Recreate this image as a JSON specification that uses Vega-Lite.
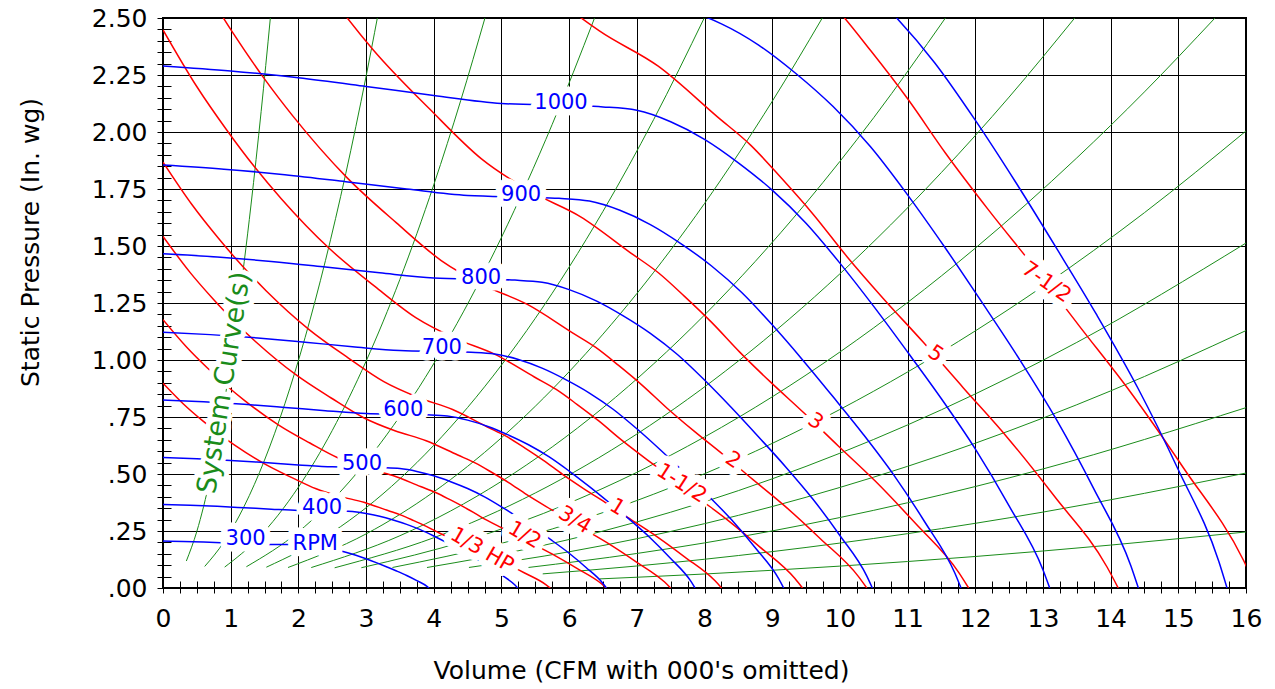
{
"$schema":"https://vega.github.io/schema/vega-lite/v6.json",
"width":1083,"height":570,
"autosize":{"type":"none"},
"padding":{"left":163,"top":18,"right":29,"bottom":101},
"background":"white",
"config":{"view":{"stroke":"#000","strokeWidth":2},"font":"DejaVu Sans"},
"datasets":{
"curves":[
{"k":"s","id":"g1","x":0.345,"y":0.1183},{"k":"s","id":"g1","x":0.5,"y":0.2485},{"k":"s","id":"g1","x":0.7,"y":0.4871},{"k":"s","id":"g1","x":0.9,"y":0.8051},{"k":"s","id":"g1","x":1.1,"y":1.2027},{"k":"s","id":"g1","x":1.3,"y":1.6799},{"k":"s","id":"g1","x":1.45,"y":2.09},{"k":"s","id":"g1","x":1.586,"y":2.5003},
{"k":"s","id":"g2","x":0.616,"y":0.0946},{"k":"s","id":"g2","x":0.9,"y":0.2019},{"k":"s","id":"g2","x":1.2,"y":0.359},{"k":"s","id":"g2","x":1.5,"y":0.5609},{"k":"s","id":"g2","x":1.8,"y":0.8077},{"k":"s","id":"g2","x":2.1,"y":1.0994},{"k":"s","id":"g2","x":2.4,"y":1.436},{"k":"s","id":"g2","x":2.7,"y":1.8174},{"k":"s","id":"g2","x":3.0,"y":2.2437},{"k":"s","id":"g2","x":3.167,"y":2.5004},
{"k":"s","id":"g3","x":0.911,"y":0.0917},{"k":"s","id":"g3","x":1.4,"y":0.2166},{"k":"s","id":"g3","x":2.0,"y":0.442},{"k":"s","id":"g3","x":2.5,"y":0.6906},{"k":"s","id":"g3","x":3.0,"y":0.9945},{"k":"s","id":"g3","x":3.5,"y":1.3536},{"k":"s","id":"g3","x":4.0,"y":1.768},{"k":"s","id":"g3","x":4.4,"y":2.1393},{"k":"s","id":"g3","x":4.757,"y":2.5005},
{"k":"s","id":"g4","x":1.232,"y":0.0933},{"k":"s","id":"g4","x":2,"y":0.246},{"k":"s","id":"g4","x":2.75,"y":0.4651},{"k":"s","id":"g4","x":3.5,"y":0.7534},{"k":"s","id":"g4","x":4.25,"y":1.1109},{"k":"s","id":"g4","x":5,"y":1.5375},{"k":"s","id":"g4","x":5.75,"y":2.0333},{"k":"s","id":"g4","x":6.375,"y":2.4994},
{"k":"s","id":"g5","x":1.527,"y":0.0912},{"k":"s","id":"g5","x":2.5,"y":0.2444},{"k":"s","id":"g5","x":3.5,"y":0.479},{"k":"s","id":"g5","x":4.5,"y":0.7918},{"k":"s","id":"g5","x":5.5,"y":1.1828},{"k":"s","id":"g5","x":6.5,"y":1.652},{"k":"s","id":"g5","x":7.25,"y":2.0552},{"k":"s","id":"g5","x":8.0,"y":2.5024},
{"k":"s","id":"g6","x":1.847,"y":0.0899},{"k":"s","id":"g6","x":3,"y":0.2372},{"k":"s","id":"g6","x":4,"y":0.4216},{"k":"s","id":"g6","x":5,"y":0.6588},{"k":"s","id":"g6","x":6,"y":0.9486},{"k":"s","id":"g6","x":7,"y":1.2912},{"k":"s","id":"g6","x":8,"y":1.6864},{"k":"s","id":"g6","x":9,"y":2.1344},{"k":"s","id":"g6","x":9.74,"y":2.4998},
{"k":"s","id":"g7","x":2.19,"y":0.0897},{"k":"s","id":"g7","x":3.5,"y":0.2292},{"k":"s","id":"g7","x":5,"y":0.4678},{"k":"s","id":"g7","x":6.5,"y":0.7905},{"k":"s","id":"g7","x":8,"y":1.1974},{"k":"s","id":"g7","x":9.5,"y":1.6886},{"k":"s","id":"g7","x":10.5,"y":2.0628},{"k":"s","id":"g7","x":11.56,"y":2.5003},
{"k":"s","id":"g8","x":2.536,"y":0.0886},{"k":"s","id":"g8","x":4,"y":0.2205},{"k":"s","id":"g8","x":5.5,"y":0.4168},{"k":"s","id":"g8","x":7,"y":0.6752},{"k":"s","id":"g8","x":8.5,"y":0.9956},{"k":"s","id":"g8","x":10,"y":1.378},{"k":"s","id":"g8","x":11.5,"y":1.8224},{"k":"s","id":"g8","x":12.5,"y":2.1531},{"k":"s","id":"g8","x":13.47,"y":2.5003},
{"k":"s","id":"g9","x":2.93,"y":0.0889},{"k":"s","id":"g9","x":4.5,"y":0.2096},{"k":"s","id":"g9","x":6,"y":0.3726},{"k":"s","id":"g9","x":8,"y":0.6624},{"k":"s","id":"g9","x":10,"y":1.035},{"k":"s","id":"g9","x":12,"y":1.4904},{"k":"s","id":"g9","x":13.5,"y":1.8863},{"k":"s","id":"g9","x":14.5,"y":2.176},{"k":"s","id":"g9","x":15.54,"y":2.4994},
{"k":"s","id":"g10","x":3.39,"y":0.09},{"k":"s","id":"g10","x":5,"y":0.1958},{"k":"s","id":"g10","x":7,"y":0.3837},{"k":"s","id":"g10","x":9,"y":0.6342},{"k":"s","id":"g10","x":11,"y":0.9474},{"k":"s","id":"g10","x":13,"y":1.3233},{"k":"s","id":"g10","x":14.5,"y":1.6463},{"k":"s","id":"g10","x":16,"y":2.0045},
{"k":"s","id":"g11","x":3.9,"y":0.0899},{"k":"s","id":"g11","x":5.5,"y":0.1788},{"k":"s","id":"g11","x":7.5,"y":0.3324},{"k":"s","id":"g11","x":9.5,"y":0.5334},{"k":"s","id":"g11","x":11.5,"y":0.7816},{"k":"s","id":"g11","x":13.5,"y":1.0771},{"k":"s","id":"g11","x":16,"y":1.513},
{"k":"s","id":"g12","x":4.52,"y":0.0901},{"k":"s","id":"g12","x":6,"y":0.1588},{"k":"s","id":"g12","x":8,"y":0.2822},{"k":"s","id":"g12","x":10,"y":0.441},{"k":"s","id":"g12","x":12,"y":0.635},{"k":"s","id":"g12","x":14,"y":0.8644},{"k":"s","id":"g12","x":16,"y":1.129},
{"k":"s","id":"g13","x":5.4,"y":0.0901},{"k":"s","id":"g13","x":7,"y":0.1514},{"k":"s","id":"g13","x":9,"y":0.2503},{"k":"s","id":"g13","x":11,"y":0.3739},{"k":"s","id":"g13","x":13,"y":0.5222},{"k":"s","id":"g13","x":16,"y":0.791},
{"k":"s","id":"g14","x":5.61,"y":0.062},{"k":"s","id":"g14","x":7,"y":0.0965},{"k":"s","id":"g14","x":9,"y":0.1596},{"k":"s","id":"g14","x":11,"y":0.2384},{"k":"s","id":"g14","x":13,"y":0.3329},{"k":"s","id":"g14","x":16,"y":0.5043},
{"k":"s","id":"g15","x":6.45,"y":0.0399},{"k":"s","id":"g15","x":8,"y":0.0614},{"k":"s","id":"g15","x":10,"y":0.096},{"k":"s","id":"g15","x":12,"y":0.1382},{"k":"s","id":"g15","x":14,"y":0.1882},{"k":"s","id":"g15","x":16,"y":0.2458},

{"k":"h","id":"h0.33","x":0,"y":0.898},{"k":"h","id":"h0.33","x":0.2977,"y":0.8082},{"k":"h","id":"h0.33","x":0.57,"y":0.7371},{"k":"h","id":"h0.33","x":0.8221,"y":0.677},{"k":"h","id":"h0.33","x":1.0583,"y":0.6265},{"k":"h","id":"h0.33","x":1.4938,"y":0.5455},{"k":"h","id":"h0.33","x":1.896,"y":0.4853},{"k":"h","id":"h0.33","x":2.2622,"y":0.435},{"k":"h","id":"h0.33","x":2.6144,"y":0.4018},{"k":"h","id":"h0.33","x":2.9666,"y":0.3763},{"k":"h","id":"h0.33","x":3.3233,"y":0.3396},{"k":"h","id":"h0.33","x":3.5187,"y":0.3196},{"k":"h","id":"h0.33","x":3.7044,"y":0.2956},{"k":"h","id":"h0.33","x":3.897,"y":0.2692},{"k":"h","id":"h0.33","x":4.0966,"y":0.2391},{"k":"h","id":"h0.33","x":4.316,"y":0.2087},{"k":"h","id":"h0.33","x":4.5535,"y":0.1774},{"k":"h","id":"h0.33","x":4.7949,"y":0.1443},{"k":"h","id":"h0.33","x":5.059,"y":0.1084},{"k":"h","id":"h0.33","x":5.3427,"y":0.0658},{"k":"h","id":"h0.33","x":5.6554,"y":0.0151},{"k":"h","id":"h0.33","x":5.7226,"y":0},

{"k":"h","id":"h0.5","x":0,"y":1.1768},{"k":"h","id":"h0.5","x":0.3407,"y":1.059},{"k":"h","id":"h0.5","x":0.6525,"y":0.9658},{"k":"h","id":"h0.5","x":0.941,"y":0.887},{"k":"h","id":"h0.5","x":1.2113,"y":0.8209},{"k":"h","id":"h0.5","x":1.7099,"y":0.7147},{"k":"h","id":"h0.5","x":2.1703,"y":0.6359},{"k":"h","id":"h0.5","x":2.5894,"y":0.57},{"k":"h","id":"h0.5","x":2.9926,"y":0.5264},{"k":"h","id":"h0.5","x":3.3958,"y":0.4931},{"k":"h","id":"h0.5","x":3.804,"y":0.445},{"k":"h","id":"h0.5","x":4.0276,"y":0.4188},{"k":"h","id":"h0.5","x":4.2403,"y":0.3874},{"k":"h","id":"h0.5","x":4.4608,"y":0.3528},{"k":"h","id":"h0.5","x":4.6892,"y":0.3134},{"k":"h","id":"h0.5","x":4.9403,"y":0.2734},{"k":"h","id":"h0.5","x":5.2122,"y":0.2324},{"k":"h","id":"h0.5","x":5.4885,"y":0.1891},{"k":"h","id":"h0.5","x":5.7908,"y":0.1421},{"k":"h","id":"h0.5","x":6.1155,"y":0.0862},{"k":"h","id":"h0.5","x":6.4734,"y":0.0198},{"k":"h","id":"h0.5","x":6.5504,"y":0},

{"k":"h","id":"h0.75","x":0,"y":1.542},{"k":"h","id":"h0.75","x":0.3901,"y":1.3877},{"k":"h","id":"h0.75","x":0.747,"y":1.2655},{"k":"h","id":"h0.75","x":1.0772,"y":1.1623},{"k":"h","id":"h0.75","x":1.3867,"y":1.0756},{"k":"h","id":"h0.75","x":1.9574,"y":0.9365},{"k":"h","id":"h0.75","x":2.4845,"y":0.8333},{"k":"h","id":"h0.75","x":2.9643,"y":0.7469},{"k":"h","id":"h0.75","x":3.4258,"y":0.6898},{"k":"h","id":"h0.75","x":3.8874,"y":0.6461},{"k":"h","id":"h0.75","x":4.3547,"y":0.5831},{"k":"h","id":"h0.75","x":4.6107,"y":0.5487},{"k":"h","id":"h0.75","x":4.8541,"y":0.5076},{"k":"h","id":"h0.75","x":5.1065,"y":0.4623},{"k":"h","id":"h0.75","x":5.368,"y":0.4106},{"k":"h","id":"h0.75","x":5.6555,"y":0.3583},{"k":"h","id":"h0.75","x":5.9668,"y":0.3045},{"k":"h","id":"h0.75","x":6.283,"y":0.2477},{"k":"h","id":"h0.75","x":6.6291,"y":0.1862},{"k":"h","id":"h0.75","x":7.0008,"y":0.1129},{"k":"h","id":"h0.75","x":7.4105,"y":0.026},{"k":"h","id":"h0.75","x":7.4987,"y":0},

{"k":"h","id":"h1","x":0,"y":1.868},{"k":"h","id":"h1","x":0.4293,"y":1.681},{"k":"h","id":"h1","x":0.8221,"y":1.533},{"k":"h","id":"h1","x":1.1856,"y":1.408},{"k":"h","id":"h1","x":1.5262,"y":1.303},{"k":"h","id":"h1","x":2.1543,"y":1.1345},{"k":"h","id":"h1","x":2.7344,"y":1.0094},{"k":"h","id":"h1","x":3.2625,"y":0.9048},{"k":"h","id":"h1","x":3.7704,"y":0.8356},{"k":"h","id":"h1","x":4.2784,"y":0.7827},{"k":"h","id":"h1","x":4.7928,"y":0.7063},{"k":"h","id":"h1","x":5.0745,"y":0.6647},{"k":"h","id":"h1","x":5.3424,"y":0.6149},{"k":"h","id":"h1","x":5.6202,"y":0.56},{"k":"h","id":"h1","x":5.908,"y":0.4974},{"k":"h","id":"h1","x":6.2244,"y":0.434},{"k":"h","id":"h1","x":6.567,"y":0.3689},{"k":"h","id":"h1","x":6.915,"y":0.3001},{"k":"h","id":"h1","x":7.296,"y":0.2255},{"k":"h","id":"h1","x":7.705,"y":0.1368},{"k":"h","id":"h1","x":8.156,"y":0.0315},{"k":"h","id":"h1","x":8.253,"y":0},

{"k":"h","id":"h1.5","x":0,"y":2.4478},{"k":"h","id":"h1.5","x":0.4914,"y":2.2028},{"k":"h","id":"h1.5","x":0.9411,"y":2.0088},{"k":"h","id":"h1.5","x":1.3572,"y":1.845},{"k":"h","id":"h1.5","x":1.747,"y":1.7075},{"k":"h","id":"h1.5","x":2.466,"y":1.4866},{"k":"h","id":"h1.5","x":3.1301,"y":1.3227},{"k":"h","id":"h1.5","x":3.7346,"y":1.1857},{"k":"h","id":"h1.5","x":4.316,"y":1.095},{"k":"h","id":"h1.5","x":4.8975,"y":1.0256},{"k":"h","id":"h1.5","x":5.4864,"y":0.9255},{"k":"h","id":"h1.5","x":5.8088,"y":0.871},{"k":"h","id":"h1.5","x":6.1154,"y":0.8058},{"k":"h","id":"h1.5","x":6.4336,"y":0.7338},{"k":"h","id":"h1.5","x":6.7629,"y":0.6518},{"k":"h","id":"h1.5","x":7.1251,"y":0.5687},{"k":"h","id":"h1.5","x":7.5173,"y":0.4834},{"k":"h","id":"h1.5","x":7.9156,"y":0.3933},{"k":"h","id":"h1.5","x":8.3517,"y":0.2955},{"k":"h","id":"h1.5","x":8.8199,"y":0.1793},{"k":"h","id":"h1.5","x":9.3362,"y":0.0413},{"k":"h","id":"h1.5","x":9.4472,"y":0},

{"k":"h","id":"h2","x":0.5409,"y":2.6684},{"k":"h","id":"h2","x":1.0358,"y":2.4335},{"k":"h","id":"h2","x":1.4937,"y":2.2351},{"k":"h","id":"h2","x":1.9229,"y":2.0684},{"k":"h","id":"h2","x":2.7142,"y":1.8009},{"k":"h","id":"h2","x":3.4451,"y":1.6023},{"k":"h","id":"h2","x":4.1104,"y":1.4363},{"k":"h","id":"h2","x":4.7503,"y":1.3264},{"k":"h","id":"h2","x":5.3904,"y":1.2425},{"k":"h","id":"h2","x":6.0385,"y":1.1212},{"k":"h","id":"h2","x":6.3934,"y":1.0551},{"k":"h","id":"h2","x":6.7309,"y":0.9761},{"k":"h","id":"h2","x":7.0809,"y":0.8889},{"k":"h","id":"h2","x":7.4435,"y":0.7896},{"k":"h","id":"h2","x":7.8421,"y":0.6889},{"k":"h","id":"h2","x":8.2738,"y":0.5856},{"k":"h","id":"h2","x":8.7122,"y":0.4764},{"k":"h","id":"h2","x":9.1922,"y":0.358},{"k":"h","id":"h2","x":9.7076,"y":0.2172},{"k":"h","id":"h2","x":10.2757,"y":0.05},{"k":"h","id":"h2","x":10.398,"y":0},

{"k":"h","id":"h3","x":1.1856,"y":3.1888},{"k":"h","id":"h3","x":2.2011,"y":2.7104},{"k":"h","id":"h3","x":3.1069,"y":2.3599},{"k":"h","id":"h3","x":3.9435,"y":2.0997},{"k":"h","id":"h3","x":4.7052,"y":1.8821},{"k":"h","id":"h3","x":5.4377,"y":1.7381},{"k":"h","id":"h3","x":6.1703,"y":1.6281},{"k":"h","id":"h3","x":6.9122,"y":1.4692},{"k":"h","id":"h3","x":7.3185,"y":1.3826},{"k":"h","id":"h3","x":7.7048,"y":1.279},{"k":"h","id":"h3","x":8.1055,"y":1.1649},{"k":"h","id":"h3","x":8.5206,"y":1.0346},{"k":"h","id":"h3","x":8.9768,"y":0.9028},{"k":"h","id":"h3","x":9.4709,"y":0.7673},{"k":"h","id":"h3","x":9.9728,"y":0.6242},{"k":"h","id":"h3","x":10.5223,"y":0.4691},{"k":"h","id":"h3","x":11.1122,"y":0.2846},{"k":"h","id":"h3","x":11.7625,"y":0.0655},{"k":"h","id":"h3","x":11.9025,"y":0},

{"k":"h","id":"h5","x":4.6758,"y":2.9515},{"k":"h","id":"h5","x":5.5789,"y":2.6456},{"k":"h","id":"h5","x":6.4474,"y":2.4433},{"k":"h","id":"h5","x":7.3161,"y":2.2886},{"k":"h","id":"h5","x":8.1957,"y":2.0652},{"k":"h","id":"h5","x":8.6774,"y":1.9436},{"k":"h","id":"h5","x":9.1355,"y":1.798},{"k":"h","id":"h5","x":9.6105,"y":1.6374},{"k":"h","id":"h5","x":10.1027,"y":1.4544},{"k":"h","id":"h5","x":10.6437,"y":1.269},{"k":"h","id":"h5","x":11.2296,"y":1.0787},{"k":"h","id":"h5","x":11.8247,"y":0.8775},{"k":"h","id":"h5","x":12.4762,"y":0.6594},{"k":"h","id":"h5","x":13.1756,"y":0.4},{"k":"h","id":"h5","x":13.9468,"y":0.0921},{"k":"h","id":"h5","x":14.1126,"y":0},

{"k":"h","id":"h7.5","x":7.3802,"y":3.2016},{"k":"h","id":"h7.5","x":8.3746,"y":2.9989},{"k":"h","id":"h7.5","x":9.3814,"y":2.7062},{"k":"h","id":"h7.5","x":9.933,"y":2.5468},{"k":"h","id":"h7.5","x":10.4572,"y":2.356},{"k":"h","id":"h7.5","x":11.001,"y":2.1456},{"k":"h","id":"h7.5","x":11.5643,"y":1.9058},{"k":"h","id":"h7.5","x":12.1836,"y":1.6629},{"k":"h","id":"h7.5","x":12.8542,"y":1.4134},{"k":"h","id":"h7.5","x":13.5354,"y":1.1498},{"k":"h","id":"h7.5","x":14.2812,"y":0.864},{"k":"h","id":"h7.5","x":15.082,"y":0.5242},{"k":"h","id":"h7.5","x":15.9646,"y":0.1207},{"k":"h","id":"h7.5","x":16.1545,"y":0},

{"k":"r","id":"r300","x":0,"y":0.2061},{"k":"r","id":"r300","x":0.3,"y":0.2041},{"k":"r","id":"r300","x":0.6,"y":0.2014},{"k":"r","id":"r300","x":0.9,"y":0.198},{"k":"r","id":"r300","x":1.2,"y":0.1944},{"k":"r","id":"r300","x":1.5,"y":0.1913},{"k":"r","id":"r300","x":1.8,"y":0.1904},{"k":"r","id":"r300","x":1.95,"y":0.1899},{"k":"r","id":"r300","x":2.1,"y":0.1886},{"k":"r","id":"r300","x":2.25,"y":0.1841},{"k":"r","id":"r300","x":2.4,"y":0.1771},{"k":"r","id":"r300","x":2.55,"y":0.1679},{"k":"r","id":"r300","x":2.7,"y":0.1571},{"k":"r","id":"r300","x":2.85,"y":0.144},{"k":"r","id":"r300","x":3.0,"y":0.1283},{"k":"r","id":"r300","x":3.15,"y":0.1112},{"k":"r","id":"r300","x":3.3,"y":0.0932},{"k":"r","id":"r300","x":3.45,"y":0.0747},{"k":"r","id":"r300","x":3.6,"y":0.0549},{"k":"r","id":"r300","x":3.75,"y":0.0324},{"k":"r","id":"r300","x":3.9,"y":0.0072},{"k":"r","id":"r300","x":3.93,"y":0},

{"k":"r","id":"r400","x":0,"y":0.3664},{"k":"r","id":"r400","x":0.4,"y":0.3629},{"k":"r","id":"r400","x":0.8,"y":0.3581},{"k":"r","id":"r400","x":1.2,"y":0.352},{"k":"r","id":"r400","x":1.6,"y":0.3456},{"k":"r","id":"r400","x":2.0,"y":0.34},{"k":"r","id":"r400","x":2.4,"y":0.3386},{"k":"r","id":"r400","x":2.6,"y":0.3376},{"k":"r","id":"r400","x":2.8,"y":0.3352},{"k":"r","id":"r400","x":3.0,"y":0.3272},{"k":"r","id":"r400","x":3.2,"y":0.3149},{"k":"r","id":"r400","x":3.4,"y":0.2984},{"k":"r","id":"r400","x":3.6,"y":0.2792},{"k":"r","id":"r400","x":3.8,"y":0.256},{"k":"r","id":"r400","x":4.0,"y":0.228},{"k":"r","id":"r400","x":4.2,"y":0.1976},{"k":"r","id":"r400","x":4.4,"y":0.1656},{"k":"r","id":"r400","x":4.6,"y":0.1328},{"k":"r","id":"r400","x":4.8,"y":0.0976},{"k":"r","id":"r400","x":5.0,"y":0.0576},{"k":"r","id":"r400","x":5.2,"y":0.0128},{"k":"r","id":"r400","x":5.24,"y":0},

{"k":"r","id":"r500","x":0,"y":0.5725},{"k":"r","id":"r500","x":0.5,"y":0.567},{"k":"r","id":"r500","x":1,"y":0.5595},{"k":"r","id":"r500","x":1.5,"y":0.55},{"k":"r","id":"r500","x":2,"y":0.54},{"k":"r","id":"r500","x":2.5,"y":0.5313},{"k":"r","id":"r500","x":3,"y":0.529},{"k":"r","id":"r500","x":3.25,"y":0.5275},{"k":"r","id":"r500","x":3.5,"y":0.5238},{"k":"r","id":"r500","x":3.75,"y":0.5113},{"k":"r","id":"r500","x":4,"y":0.492},{"k":"r","id":"r500","x":4.25,"y":0.4663},{"k":"r","id":"r500","x":4.5,"y":0.4363},{"k":"r","id":"r500","x":4.75,"y":0.4},{"k":"r","id":"r500","x":5,"y":0.3563},{"k":"r","id":"r500","x":5.25,"y":0.3088},{"k":"r","id":"r500","x":5.5,"y":0.2588},{"k":"r","id":"r500","x":5.75,"y":0.2075},{"k":"r","id":"r500","x":6,"y":0.1525},{"k":"r","id":"r500","x":6.25,"y":0.09},{"k":"r","id":"r500","x":6.5,"y":0.02},{"k":"r","id":"r500","x":6.55,"y":0},

{"k":"r","id":"r600","x":0,"y":0.8244},{"k":"r","id":"r600","x":0.6,"y":0.8165},{"k":"r","id":"r600","x":1.2,"y":0.8057},{"k":"r","id":"r600","x":1.8,"y":0.792},{"k":"r","id":"r600","x":2.4,"y":0.7776},{"k":"r","id":"r600","x":3.0,"y":0.765},{"k":"r","id":"r600","x":3.6,"y":0.7618},{"k":"r","id":"r600","x":3.9,"y":0.7596},{"k":"r","id":"r600","x":4.2,"y":0.7542},{"k":"r","id":"r600","x":4.5,"y":0.7362},{"k":"r","id":"r600","x":4.8,"y":0.7085},{"k":"r","id":"r600","x":5.1,"y":0.6714},{"k":"r","id":"r600","x":5.4,"y":0.6282},{"k":"r","id":"r600","x":5.7,"y":0.576},{"k":"r","id":"r600","x":6.0,"y":0.513},{"k":"r","id":"r600","x":6.3,"y":0.4446},{"k":"r","id":"r600","x":6.6,"y":0.3726},{"k":"r","id":"r600","x":6.9,"y":0.2988},{"k":"r","id":"r600","x":7.2,"y":0.2196},{"k":"r","id":"r600","x":7.5,"y":0.1296},{"k":"r","id":"r600","x":7.8,"y":0.0288},{"k":"r","id":"r600","x":7.86,"y":0},

{"k":"r","id":"r700","x":0,"y":1.1221},{"k":"r","id":"r700","x":0.7,"y":1.1113},{"k":"r","id":"r700","x":1.4,"y":1.0966},{"k":"r","id":"r700","x":2.1,"y":1.078},{"k":"r","id":"r700","x":2.8,"y":1.0584},{"k":"r","id":"r700","x":3.5,"y":1.0413},{"k":"r","id":"r700","x":4.2,"y":1.0368},{"k":"r","id":"r700","x":4.55,"y":1.0339},{"k":"r","id":"r700","x":4.9,"y":1.0266},{"k":"r","id":"r700","x":5.25,"y":1.0021},{"k":"r","id":"r700","x":5.6,"y":0.9643},{"k":"r","id":"r700","x":5.95,"y":0.9139},{"k":"r","id":"r700","x":6.3,"y":0.8551},{"k":"r","id":"r700","x":6.65,"y":0.784},{"k":"r","id":"r700","x":7.0,"y":0.6983},{"k":"r","id":"r700","x":7.35,"y":0.6052},{"k":"r","id":"r700","x":7.7,"y":0.5072},{"k":"r","id":"r700","x":8.05,"y":0.4067},{"k":"r","id":"r700","x":8.4,"y":0.2989},{"k":"r","id":"r700","x":8.75,"y":0.1764},{"k":"r","id":"r700","x":9.1,"y":0.0392},{"k":"r","id":"r700","x":9.17,"y":0},

{"k":"r","id":"r800","x":0,"y":1.4656},{"k":"r","id":"r800","x":0.8,"y":1.4515},{"k":"r","id":"r800","x":1.6,"y":1.4323},{"k":"r","id":"r800","x":2.4,"y":1.408},{"k":"r","id":"r800","x":3.2,"y":1.3824},{"k":"r","id":"r800","x":4.0,"y":1.36},{"k":"r","id":"r800","x":4.8,"y":1.3542},{"k":"r","id":"r800","x":5.2,"y":1.3504},{"k":"r","id":"r800","x":5.6,"y":1.3408},{"k":"r","id":"r800","x":6.0,"y":1.3088},{"k":"r","id":"r800","x":6.4,"y":1.2595},{"k":"r","id":"r800","x":6.8,"y":1.1936},{"k":"r","id":"r800","x":7.2,"y":1.1168},{"k":"r","id":"r800","x":7.6,"y":1.024},{"k":"r","id":"r800","x":8.0,"y":0.912},{"k":"r","id":"r800","x":8.4,"y":0.7904},{"k":"r","id":"r800","x":8.8,"y":0.6624},{"k":"r","id":"r800","x":9.2,"y":0.5312},{"k":"r","id":"r800","x":9.6,"y":0.3904},{"k":"r","id":"r800","x":10.0,"y":0.2304},{"k":"r","id":"r800","x":10.4,"y":0.0512},{"k":"r","id":"r800","x":10.48,"y":0},

{"k":"r","id":"r900","x":0,"y":1.8549},{"k":"r","id":"r900","x":0.9,"y":1.8371},{"k":"r","id":"r900","x":1.8,"y":1.8128},{"k":"r","id":"r900","x":2.7,"y":1.782},{"k":"r","id":"r900","x":3.6,"y":1.7496},{"k":"r","id":"r900","x":4.5,"y":1.7213},{"k":"r","id":"r900","x":5.4,"y":1.714},{"k":"r","id":"r900","x":5.85,"y":1.7091},{"k":"r","id":"r900","x":6.3,"y":1.697},{"k":"r","id":"r900","x":6.75,"y":1.6565},{"k":"r","id":"r900","x":7.2,"y":1.5941},{"k":"r","id":"r900","x":7.65,"y":1.5107},{"k":"r","id":"r900","x":8.1,"y":1.4135},{"k":"r","id":"r900","x":8.55,"y":1.296},{"k":"r","id":"r900","x":9.0,"y":1.1543},{"k":"r","id":"r900","x":9.45,"y":1.0004},{"k":"r","id":"r900","x":9.9,"y":0.8384},{"k":"r","id":"r900","x":10.35,"y":0.6723},{"k":"r","id":"r900","x":10.8,"y":0.4941},{"k":"r","id":"r900","x":11.25,"y":0.2916},{"k":"r","id":"r900","x":11.7,"y":0.0648},{"k":"r","id":"r900","x":11.79,"y":0},

{"k":"r","id":"r1000","x":0,"y":2.29},{"k":"r","id":"r1000","x":1,"y":2.268},{"k":"r","id":"r1000","x":2,"y":2.238},{"k":"r","id":"r1000","x":3,"y":2.2},{"k":"r","id":"r1000","x":4,"y":2.16},{"k":"r","id":"r1000","x":5,"y":2.125},{"k":"r","id":"r1000","x":6,"y":2.116},{"k":"r","id":"r1000","x":6.5,"y":2.11},{"k":"r","id":"r1000","x":7,"y":2.095},{"k":"r","id":"r1000","x":7.5,"y":2.045},{"k":"r","id":"r1000","x":8,"y":1.968},{"k":"r","id":"r1000","x":8.5,"y":1.865},{"k":"r","id":"r1000","x":9,"y":1.745},{"k":"r","id":"r1000","x":9.5,"y":1.6},{"k":"r","id":"r1000","x":10,"y":1.425},{"k":"r","id":"r1000","x":10.5,"y":1.235},{"k":"r","id":"r1000","x":11,"y":1.035},{"k":"r","id":"r1000","x":11.5,"y":0.83},{"k":"r","id":"r1000","x":12,"y":0.61},{"k":"r","id":"r1000","x":12.5,"y":0.36},{"k":"r","id":"r1000","x":13,"y":0.08},{"k":"r","id":"r1000","x":13.1,"y":0},

{"k":"r","id":"r1100","x":7.15,"y":2.5531},{"k":"r","id":"r1100","x":7.7,"y":2.535},{"k":"r","id":"r1100","x":8.25,"y":2.4745},{"k":"r","id":"r1100","x":8.8,"y":2.3813},{"k":"r","id":"r1100","x":9.35,"y":2.2567},{"k":"r","id":"r1100","x":9.9,"y":2.1115},{"k":"r","id":"r1100","x":10.45,"y":1.936},{"k":"r","id":"r1100","x":11.0,"y":1.7243},{"k":"r","id":"r1100","x":11.55,"y":1.4944},{"k":"r","id":"r1100","x":12.1,"y":1.2524},{"k":"r","id":"r1100","x":12.65,"y":1.0043},{"k":"r","id":"r1100","x":13.2,"y":0.7381},{"k":"r","id":"r1100","x":13.75,"y":0.4356},{"k":"r","id":"r1100","x":14.3,"y":0.0968},{"k":"r","id":"r1100","x":14.41,"y":0},

{"k":"r","id":"r1200","x":9.6,"y":2.8339},{"k":"r","id":"r1200","x":10.2,"y":2.6856},{"k":"r","id":"r1200","x":10.8,"y":2.5128},{"k":"r","id":"r1200","x":11.4,"y":2.304},{"k":"r","id":"r1200","x":12.0,"y":2.052},{"k":"r","id":"r1200","x":12.6,"y":1.7784},{"k":"r","id":"r1200","x":13.2,"y":1.4904},{"k":"r","id":"r1200","x":13.8,"y":1.1952},{"k":"r","id":"r1200","x":14.4,"y":0.8784},{"k":"r","id":"r1200","x":15.0,"y":0.5184},{"k":"r","id":"r1200","x":15.6,"y":0.1152},{"k":"r","id":"r1200","x":15.72,"y":0}
],
"labels":[
{"k":"r","t":"1000","x":5.88,"y":2.127},
{"k":"r","t":"900","x":5.29,"y":1.723},
{"k":"r","t":"800","x":4.70,"y":1.358},
{"k":"r","t":"700","x":4.12,"y":1.051},
{"k":"r","t":"600","x":3.55,"y":0.78},
{"k":"r","t":"500","x":2.94,"y":0.543},
{"k":"r","t":"400","x":2.35,"y":0.349},
{"k":"r","t":"300","x":1.22,"y":0.217},
{"k":"r","t":"RPM","x":2.25,"y":0.195},
{"k":"h","t":"1/3 HP","x":4.71,"y":0.165},
{"k":"h","t":"1/2","x":5.34,"y":0.231},
{"k":"h","t":"3/4","x":6.08,"y":0.297},
{"k":"h","t":"1","x":6.71,"y":0.353},
{"k":"h","t":"1-1/2","x":7.66,"y":0.458},
{"k":"h","t":"2","x":8.42,"y":0.56},
{"k":"h","t":"3","x":9.64,"y":0.729},
{"k":"h","t":"5","x":11.41,"y":1.026},
{"k":"h","t":"7-1/2","x":13.05,"y":1.34},
{"k":"s","t":"System Curve(s)","x":0.91,"y":0.9}
]
},
"encoding":{
"x":{"field":"x","type":"quantitative",
 "scale":{"domain":[0,16],"nice":false,"zero":false},
 "axis":{"values":[0,0.25,0.5,0.75,1,1.25,1.5,1.75,2,2.25,2.5,2.75,3,3.25,3.5,3.75,4,4.25,4.5,4.75,5,5.25,5.5,5.75,6,6.25,6.5,6.75,7,7.25,7.5,7.75,8,8.25,8.5,8.75,9,9.25,9.5,9.75,10,10.25,10.5,10.75,11,11.25,11.5,11.75,12,12.25,12.5,12.75,13,13.25,13.5,13.75,14,14.25,14.5,14.75,15,15.25,15.5,15.75,16],
  "title":"Volume (CFM with 000's omitted)",
  "grid":true,"gridColor":"#000","gridWidth":1,
  "gridOpacity":{"condition":{"test":"datum.value % 1 === 0","value":1},"value":0},
  "domain":false,"offset":-7,"ticks":true,"tickSize":12,"tickColor":"#000","tickWidth":1,
  "labelExpr":"datum.value % 1 === 0 ? format(datum.value,'d') : ''",
  "labelFont":"DejaVu Sans","labelFontSize":25,"labelColor":"#000","labelPadding":13,"labelOverlap":false,"labelFlush":false,
  "titleFont":"DejaVu Sans","titleFontSize":25,"titleFontWeight":"normal","titleColor":"#000",
  "titleX":478,"titleY":89,"titleAlign":"center","titleBaseline":"middle"}},
"y":{"field":"y","type":"quantitative",
 "scale":{"domain":[0,2.5],"nice":false,"zero":false},
 "axis":{"values":[0,0.05,0.1,0.15,0.2,0.25,0.3,0.35,0.4,0.45,0.5,0.55,0.6,0.65,0.7,0.75,0.8,0.85,0.9,0.95,1,1.05,1.1,1.15,1.2,1.25,1.3,1.35,1.4,1.45,1.5,1.55,1.6,1.65,1.7,1.75,1.8,1.85,1.9,1.95,2,2.05,2.1,2.15,2.2,2.25,2.3,2.35,2.4,2.45,2.5],
  "title":"Static Pressure (In. wg)",
  "grid":true,"gridColor":"#000","gridWidth":1,
  "gridOpacity":{"condition":{"test":"abs(datum.value*4-round(datum.value*4))<1e-6","value":1},"value":0},
  "domain":false,"offset":-8,"ticks":true,"tickSize":14,"tickColor":"#000","tickWidth":1,
  "labelExpr":"abs(datum.value*4-round(datum.value*4))<1e-6 ? (datum.value<1 ? replace(format(datum.value,'.2f'),'0.','.') : format(datum.value,'.2f')) : ''",
  "labelFont":"DejaVu Sans","labelFontSize":25,"labelColor":"#000","labelPadding":10,"labelOverlap":false,"labelFlush":false,
  "titleFont":"DejaVu Sans","titleFontSize":25,"titleFontWeight":"normal","titleColor":"#000",
  "titleX":-141,"titleY":224,"titleAngle":-90,"titleAlign":"center","titleBaseline":"middle"}}
},
"layer":[
{"data":{"name":"curves"},"transform":[{"filter":"datum.k==='s'"}],
 "mark":{"type":"line","color":"#1a8c1a","strokeWidth":1,"clip":true,"interpolate":"monotone"},
 "encoding":{"detail":{"field":"id","type":"nominal"}}},
{"data":{"name":"curves"},"transform":[{"filter":"datum.k==='h'"}],
 "mark":{"type":"line","color":"#ff0000","strokeWidth":1.5,"clip":true,"interpolate":"monotone"},
 "encoding":{"detail":{"field":"id","type":"nominal"}}},
{"data":{"name":"curves"},"transform":[{"filter":"datum.k==='r'"}],
 "mark":{"type":"line","color":"#0000ff","strokeWidth":1.5,"clip":true,"interpolate":"monotone"},
 "encoding":{"detail":{"field":"id","type":"nominal"}}},
{"data":{"name":"labels"},"transform":[{"filter":"datum.k==='r'"}],
 "mark":{"type":"text","font":"DejaVu Sans","fontSize":21,"fill":"#fff","stroke":"#fff","strokeWidth":13,"strokeJoin":"round","align":"center","baseline":"middle"},
 "encoding":{"text":{"field":"t","type":"nominal"}}},
{"data":{"name":"labels"},"transform":[{"filter":"datum.k==='h'"}],
 "mark":{"type":"text","font":"DejaVu Sans","fontSize":21,"fill":"#fff","stroke":"#fff","strokeWidth":15,"strokeJoin":"round","align":"center","baseline":"middle"},
 "encoding":{"text":{"field":"t","type":"nominal"},
  "angle":{"field":"t","type":"nominal","legend":null,"scale":{"domain":["1/3 HP","1/2","3/4","1","1-1/2","2","3","5","7-1/2"],"range":[30,35,40,40,45,50,60,65,60]}}}},
{"data":{"name":"labels"},"transform":[{"filter":"datum.k==='s'"}],
 "mark":{"type":"text","font":"DejaVu Sans","fontSize":27,"fill":"#fff","stroke":"#fff","strokeWidth":10,"strokeJoin":"round","align":"center","baseline":"middle","angle":-81},
 "encoding":{"text":{"field":"t","type":"nominal"}}},
{"data":{"name":"labels"},"transform":[{"filter":"datum.k==='r'"}],
 "mark":{"type":"text","font":"DejaVu Sans","fontSize":21,"color":"#0000ff","align":"center","baseline":"middle"},
 "encoding":{"text":{"field":"t","type":"nominal"}}},
{"data":{"name":"labels"},"transform":[{"filter":"datum.k==='h'"}],
 "mark":{"type":"text","font":"DejaVu Sans","fontSize":21,"color":"#ff0000","align":"center","baseline":"middle"},
 "encoding":{"text":{"field":"t","type":"nominal"},
  "angle":{"field":"t","type":"nominal","legend":null,"scale":{"domain":["1/3 HP","1/2","3/4","1","1-1/2","2","3","5","7-1/2"],"range":[30,35,40,40,45,50,60,65,60]}}}},
{"data":{"name":"labels"},"transform":[{"filter":"datum.k==='s'"}],
 "mark":{"type":"text","font":"DejaVu Sans","fontSize":27,"color":"#1a8c1a","align":"center","baseline":"middle","angle":-81},
 "encoding":{"text":{"field":"t","type":"nominal"}}}
]
}
